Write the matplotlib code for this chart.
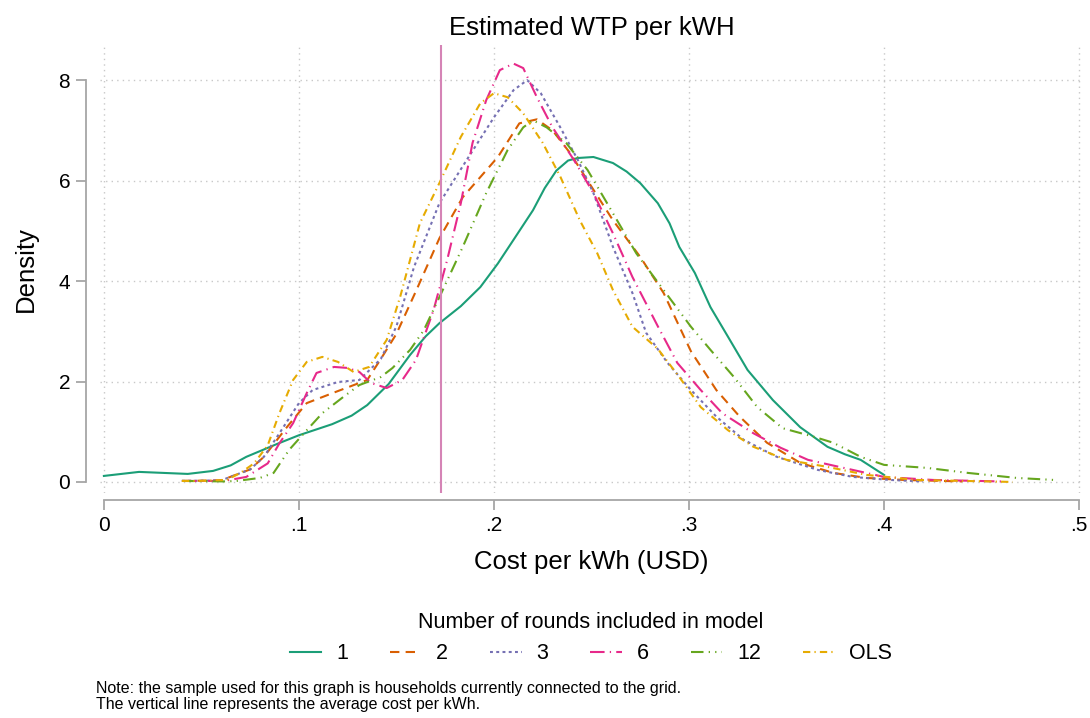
import numpy as np
import matplotlib; matplotlib.use('Agg')
import matplotlib.pyplot as plt
from matplotlib.lines import Line2D

plt.rcParams['font.family'] = ['Liberation Sans', 'DejaVu Sans']

# density curves (x = cost per kWh, y = density)
x1 = [0.0, 0.018, 0.043, 0.056, 0.065, 0.073, 0.089, 0.100, 0.117, 0.127, 0.135, 0.146,
      0.157, 0.165, 0.172, 0.183, 0.193, 0.202, 0.210, 0.220, 0.226, 0.232, 0.238, 0.243,
      0.251, 0.261, 0.268, 0.275, 0.284, 0.290, 0.295, 0.303, 0.311, 0.320, 0.330, 0.343,
      0.357, 0.371, 0.380, 0.388, 0.400]
y1 = [0.12, 0.20, 0.16, 0.22, 0.33, 0.50, 0.76, 0.93, 1.15, 1.32, 1.53, 1.95,
      2.53, 2.90, 3.16, 3.50, 3.88, 4.35, 4.82, 5.41, 5.85, 6.20, 6.40, 6.45,
      6.47, 6.35, 6.18, 5.95, 5.55, 5.15, 4.68, 4.16, 3.48, 2.89, 2.23, 1.63,
      1.09, 0.70, 0.55, 0.44, 0.14]

x2 = [0.040, 0.060, 0.075, 0.082, 0.094, 0.104, 0.120, 0.135, 0.142, 0.150, 0.160, 0.172,
      0.184, 0.202, 0.213, 0.222, 0.230, 0.239, 0.248, 0.261, 0.275, 0.287, 0.301, 0.314,
      0.326, 0.340, 0.357, 0.374, 0.391, 0.410, 0.440]
y2 = [0.02, 0.03, 0.25, 0.50, 1.10, 1.57, 1.81, 2.03, 2.45, 2.95, 3.80, 4.85,
      5.67, 6.47, 7.14, 7.22, 7.00, 6.55, 6.00, 5.21, 4.48, 3.76, 2.60, 1.83,
      1.30, 0.78, 0.38, 0.18, 0.08, 0.04, 0.01]

x3 = [0.040, 0.060, 0.075, 0.082, 0.090, 0.100, 0.107, 0.120, 0.131, 0.142, 0.150, 0.159,
      0.172, 0.186, 0.200, 0.210, 0.217, 0.224, 0.234, 0.243, 0.251, 0.261, 0.271, 0.278,
      0.289, 0.301, 0.314, 0.328, 0.345, 0.366, 0.384, 0.403, 0.420]
y3 = [0.02, 0.03, 0.25, 0.50, 0.97, 1.57, 1.83, 1.99, 2.03, 2.45, 3.10, 4.28,
      5.55, 6.41, 7.26, 7.80, 8.00, 7.74, 7.06, 6.41, 5.75, 4.68, 3.76, 2.97,
      2.37, 1.83, 1.30, 0.84, 0.50, 0.24, 0.10, 0.04, 0.01]

x6 = [0.040, 0.055, 0.063, 0.073, 0.084, 0.090, 0.097, 0.104, 0.109, 0.118, 0.125, 0.131,
      0.137, 0.145, 0.153, 0.160, 0.169, 0.176, 0.183, 0.189, 0.196, 0.203, 0.210, 0.215,
      0.222, 0.230, 0.241, 0.251, 0.261, 0.271, 0.284, 0.294, 0.306, 0.317, 0.333, 0.347,
      0.361, 0.377, 0.400, 0.425, 0.460]
y6 = [0.02, 0.02, 0.03, 0.10, 0.37, 0.77, 1.17, 1.77, 2.17, 2.29, 2.27, 2.19,
      1.97, 1.87, 2.03, 2.43, 3.42, 4.42, 5.55, 6.75, 7.60, 8.20, 8.33, 8.24,
      7.66, 7.06, 6.41, 5.75, 4.95, 4.08, 3.10, 2.37, 1.83, 1.37, 0.97, 0.68,
      0.44, 0.30, 0.10, 0.04, 0.01]

x12 = [0.040, 0.063, 0.068, 0.080, 0.087, 0.095, 0.104, 0.112, 0.123, 0.131, 0.142, 0.148,
       0.157, 0.164, 0.173, 0.184, 0.196, 0.207, 0.215, 0.220, 0.227, 0.237, 0.248, 0.258,
       0.273, 0.287, 0.301, 0.311, 0.323, 0.335, 0.348, 0.364, 0.374, 0.388, 0.400, 0.422,
       0.443, 0.468, 0.487]
y12 = [0.02, 0.01, 0.02, 0.08, 0.18, 0.64, 1.03, 1.37, 1.70, 1.93, 2.09, 2.27,
       2.63, 3.02, 3.76, 4.68, 5.75, 6.61, 7.06, 7.20, 7.06, 6.75, 6.21, 5.55,
       4.55, 3.82, 3.09, 2.63, 2.09, 1.49, 1.07, 0.90, 0.78, 0.50, 0.34, 0.28,
       0.18, 0.08, 0.04]

xo = [0.040, 0.048, 0.063, 0.070, 0.077, 0.084, 0.090, 0.097, 0.104, 0.112, 0.120, 0.128,
      0.136, 0.145, 0.152, 0.162, 0.172, 0.183, 0.193, 0.200, 0.207, 0.215, 0.225, 0.234,
      0.244, 0.253, 0.261, 0.271, 0.284, 0.295, 0.306, 0.320, 0.333, 0.350, 0.371, 0.391,
      0.417, 0.466]
yo = [0.02, 0.02, 0.04, 0.18, 0.37, 0.73, 1.37, 2.03, 2.39, 2.49, 2.39, 2.19,
      2.29, 2.83, 3.70, 5.15, 5.95, 6.87, 7.54, 7.74, 7.66, 7.34, 6.75, 6.08,
      5.21, 4.55, 3.82, 3.09, 2.65, 2.09, 1.49, 1.03, 0.70, 0.44, 0.30, 0.14,
      0.04, 0.00]

labels = ['1', '2', '3', '6', '12', 'OLS']
avg_cost = 0.1728

series = [(x1, y1), (x2, y2), (x3, y3), (x6, y6), (x12, y12), (xo, yo)]
colors = ['#1b9e77', '#d95f02', '#7570b3', '#e7298a', '#66a61e', '#e6ab02']
styles = ['-', (0, (4.5, 3)), (0, (1.4, 1.6)), (0, (7, 2.5, 0.6, 2.5)),
          (0, (6, 2.5, 0.6, 2.5, 0.6, 2.5)), (0, (3.5, 2, 0.6, 2))]

fig = plt.figure(figsize=(10.9, 7.18), dpi=100)
ax = fig.add_axes([100/1090, 1 - 493/718, 983/1090, 448/718])

ax.set_xlim(-0.002, 0.502)
ax.set_ylim(-0.22, 8.7)

for (xs, ys), c, ls, lab in zip(series, colors, styles, labels):
    ax.plot(xs, ys, color=c, ls=ls, lw=1.5, label=lab)

ax.axvline(avg_cost, color='#d584b6', lw=1.5)

ax.set_xticks([0, .1, .2, .3, .4, .5])
ax.set_xticklabels(['0', '.1', '.2', '.3', '.4', '.5'])
ax.set_yticks([0, 2, 4, 6, 8])
ax.grid(True, color='#c8c8c8', ls=(0, (1, 3)), lw=1)

for s in ['top', 'right']:
    ax.spines[s].set_visible(False)
ax.spines['left'].set_position(('outward', 10))
ax.spines['bottom'].set_position(('outward', 5))
ax.spines['left'].set_bounds(0, 8)
ax.spines['bottom'].set_bounds(0, 0.5)
for s in ['left', 'bottom']:
    ax.spines[s].set_color('#a6a6a6')
    ax.spines[s].set_linewidth(1.3)
ax.tick_params(colors='#a6a6a6', labelcolor='black', labelsize=15, length=7.5, width=1.3, pad=4)

ax.set_title('Estimated WTP per kWH', fontsize=18.5, pad=7)
ax.set_xlabel('Cost per kWh (USD)', fontsize=18.5, labelpad=11)
ax.set_ylabel('Density', fontsize=18.5, labelpad=15)

handles = [Line2D([], [], color=c, ls=ls, lw=1.5) for c, ls in zip(colors, styles)]
fig.legend(handles, labels, loc='center', bbox_to_anchor=(591/1090, 1 - 638/718), ncol=6,
           frameon=False, fontsize=15.5, title='Number of rounds included in model',
           title_fontsize=15.5, handlelength=1.45, columnspacing=1.95, handletextpad=0.7)

fig.text(96/1090, 1 - 689/718, 'Note: the sample used for this graph is households currently connected to the grid.',
         fontsize=11.5, va='center')
fig.text(96/1090, 1 - 705/718, 'The vertical line represents the average cost per kWh.',
         fontsize=11.5, va='center')

fig.savefig('out.png', dpi=100)
